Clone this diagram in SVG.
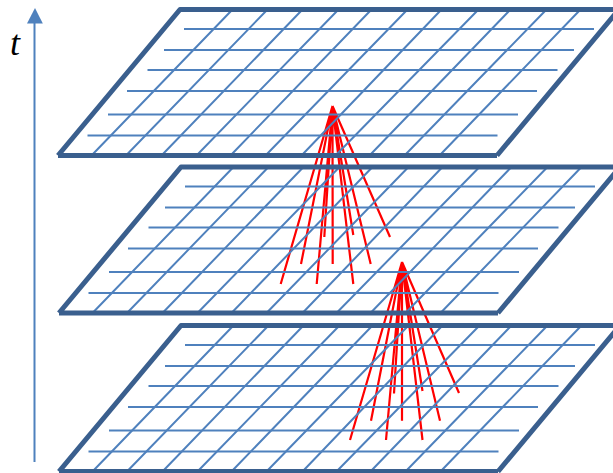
<svg xmlns="http://www.w3.org/2000/svg" xmlns:xlink="http://www.w3.org/1999/xlink" width="613" height="473" viewBox="0 0 613 473">
<style>
.frame{fill:none;stroke:#3A5F8E;stroke-width:5;stroke-linejoin:round}
.grid{stroke:#4F81BD;stroke-width:2;fill:none}
.ray{stroke:#FF0000;stroke-width:2.200;fill:none}
.label{font-family:"Liberation Serif",serif;font-style:italic;font-size:36px;fill:#000}
</style>
<defs>
<g id="plane">
<path class="grid" d="M184 29H594M164 50H574M147.500 70H557.500M127 91H537M108 114.500H518M87.500 135.500H497.500"/>
<path class="grid" d="M92 155L232 10M126.500 155L267 10M162 155L302 10M197 155L338 10M231 155L371 10M266 155L407 10M302 155L441 10M336 155L478 10M370 155L510 10M405 155L546 10M440 155L580 10"/>
<path class="frame" d="M58 155.500L180 9.500H625M497 155.500H58M497 155.500L619 9.500"/>
</g>
</defs>
<g id="connectors">
<path class="ray" d="M332.500 106L280.700 284M332.500 106L301 264M332.500 106L316.700 284M332.500 106L324.300 237M332.500 106L332.700 264M332.500 106L353.300 235M332.500 106L353.300 284M332.500 106L370.700 264M332.500 106L390 237"/>
<path class="ray" d="M402 262L350 440M402 262L371 420.700M402 262L386 440M402 262L394 393.500M402 262L402 420.700M402 262L422.500 391M402 262L422.500 440M402 262L440 420.700M402 262L459 393"/>
<path fill="#4F81BD" d="M27 23.500L35 8L42.800 23.500Z"/>
<path stroke="#4F81BD" stroke-width="2" fill="none" d="M34.500 23V462"/>
</g>
<g id="plane-top"><use href="#plane"/></g>
<g id="plane-middle"><use href="#plane" x="1" y="157.500"/></g>
<g id="plane-bottom"><use href="#plane" x="1" y="316"/></g>
<g id="axis-label"><text class="label" x="10" y="55">t</text></g>
</svg>
